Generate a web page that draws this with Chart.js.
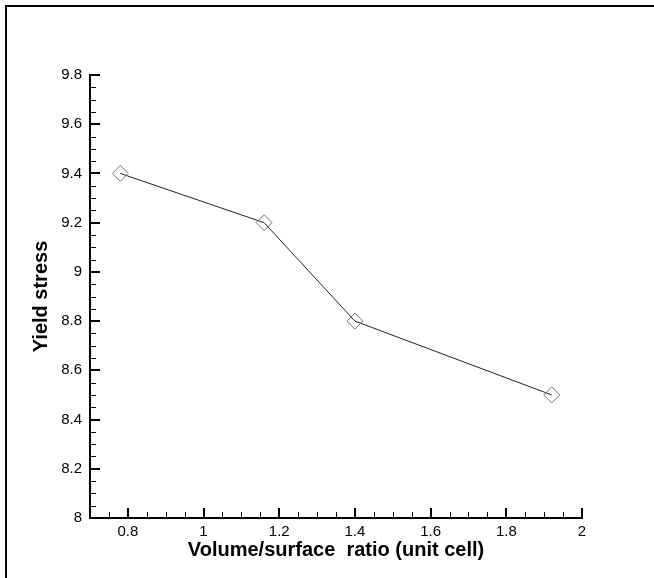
<!DOCTYPE html>
<html>
<head>
<meta charset="utf-8">
<title>Yield stress vs volume/surface ratio</title>
<script src="https://cdn.jsdelivr.net/npm/chart.js@4/dist/chart.umd.min.js"></script>
<style>
  body { margin: 0; background: #fff; }
  .wrap { position: relative; width: 654px; height: 578px; }
  .frame {
    position: absolute; left: 5px; top: 5px; right: 0; bottom: 0;
    border-left: 2px solid #000; border-top: 2px solid #000;
    pointer-events: none;
  }
</style>
</head>
<body>
<div class="wrap">
  <canvas id="chart" width="654" height="578"></canvas>
  <div class="frame"></div>
</div>
<script>
// values
const volumeRatio = [0.78, 1.16, 1.4, 1.92];
const yieldStress = [9.4, 9.2, 8.8, 8.5];

const xTickLabels = ['0.8', '1', '1.2', '1.4', '1.6', '1.8', '2'];
const yTickLabels = ['8', '8.2', '8.4', '8.6', '8.8', '9', '9.2', '9.4', '9.6', '9.8'];

const xMin = 0.7, xMax = 2;
const yMin = 8, yMax = 9.8;
const minorStep = 0.05;

const fontFamily = '"Liberation Sans", Arial, sans-serif';

// every 0.05 gets a tick, only the labelled ones are long
function tickList(min, max) {
  const list = [];
  const n = Math.round((max - min) / minorStep);
  for (let i = 0; i <= n; i++) {
    list.push(Math.round((min + i * minorStep) * 100) / 100);
  }
  return list;
}

function isMajor(value, labels) {
  return labels.some((l) => Math.abs(Number(l) - value) < 1e-6);
}

// tick marks point into the plot, so draw them from the scales ourselves
const inwardTicks = {
  id: 'inwardTicks',
  afterDatasetsDraw(chart) {
    const c = chart.ctx;
    const xs = chart.scales.x;
    const ys = chart.scales.y;
    const bottom = chart.chartArea.bottom;
    const left = chart.chartArea.left;
    c.save();
    c.strokeStyle = '#000';
    tickList(xMin, xMax).forEach((v) => {
      const major = isMajor(v, xTickLabels);
      const w = major ? 2 : 1;
      let px = Math.round(xs.getPixelForValue(v));
      if (w === 1) px += 0.5;
      c.lineWidth = w;
      c.beginPath();
      c.moveTo(px, bottom);
      c.lineTo(px, bottom - (major ? 10 : 6));
      c.stroke();
    });
    tickList(yMin, yMax).forEach((v) => {
      const major = isMajor(v, yTickLabels);
      const w = major ? 2 : 1;
      let py = Math.round(ys.getPixelForValue(v));
      if (w === 1) py += 0.5;
      c.lineWidth = w;
      c.beginPath();
      c.moveTo(left, py);
      c.lineTo(left + (major ? 10 : 6), py);
      c.stroke();
    });
    c.restore();
  },
};

function axisOptions(min, max, labels, horizontal) {
  return {
    type: 'linear',
    min: min,
    max: max,
    afterBuildTicks: (axis) => {
      axis.ticks = labels.map((l) => ({ value: Number(l) }));
    },
    afterFit: (axis) => {
      if (horizontal) axis.height = 60;
      else axis.width = 90;
    },
    border: { display: true, color: '#000', width: 2 },
    grid: {
      display: true,
      drawOnChartArea: false,
      drawTicks: false,
    },
    ticks: {
      autoSkip: false,
      maxRotation: 0,
      padding: horizontal ? 5 : 8,
      color: '#000',
      font: { family: fontFamily, size: 15 },
      callback: (value) => {
        const hit = labels.find((l) => Math.abs(Number(l) - value) < 1e-6);
        return hit === undefined ? '' : hit;
      },
    },
  };
}

const xAxis = axisOptions(xMin, xMax, xTickLabels, true);
xAxis.title = {
  display: true,
  text: 'Volume/surface  ratio (unit cell)',
  color: '#000',
  font: { family: fontFamily, size: 20, weight: 'bold' },
  padding: { top: 0, bottom: 16 },
};

const yAxis = axisOptions(yMin, yMax, yTickLabels, false);
yAxis.title = {
  display: true,
  text: 'Yield stress',
  color: '#000',
  font: { family: fontFamily, size: 20, weight: 'bold' },
  padding: { top: 29, bottom: 0 },
};

const ctx = document.getElementById('chart').getContext('2d');

new Chart(ctx, {
  type: 'scatter',
  data: {
    datasets: [
      {
        label: 'Yield stress',
        data: volumeRatio.map((x, i) => ({ x: x, y: yieldStress[i] })),
        showLine: true,
        borderColor: '#222',
        borderWidth: 1,
        pointStyle: 'rectRot',
        pointRadius: 8,
        pointHoverRadius: 8,
        pointBorderColor: '#777',
        pointBorderWidth: 1,
        pointBackgroundColor: 'rgba(0,0,0,0)',
      },
    ],
  },
  options: {
    responsive: false,
    animation: false,
    devicePixelRatio: 1,
    layout: { padding: { top: 75, right: 72, bottom: 0, left: 0 } },
    plugins: {
      legend: { display: false },
      tooltip: { enabled: false },
    },
    scales: {
      x: xAxis,
      y: yAxis,
    },
  },
  plugins: [inwardTicks],
});
</script>
</body>
</html>
